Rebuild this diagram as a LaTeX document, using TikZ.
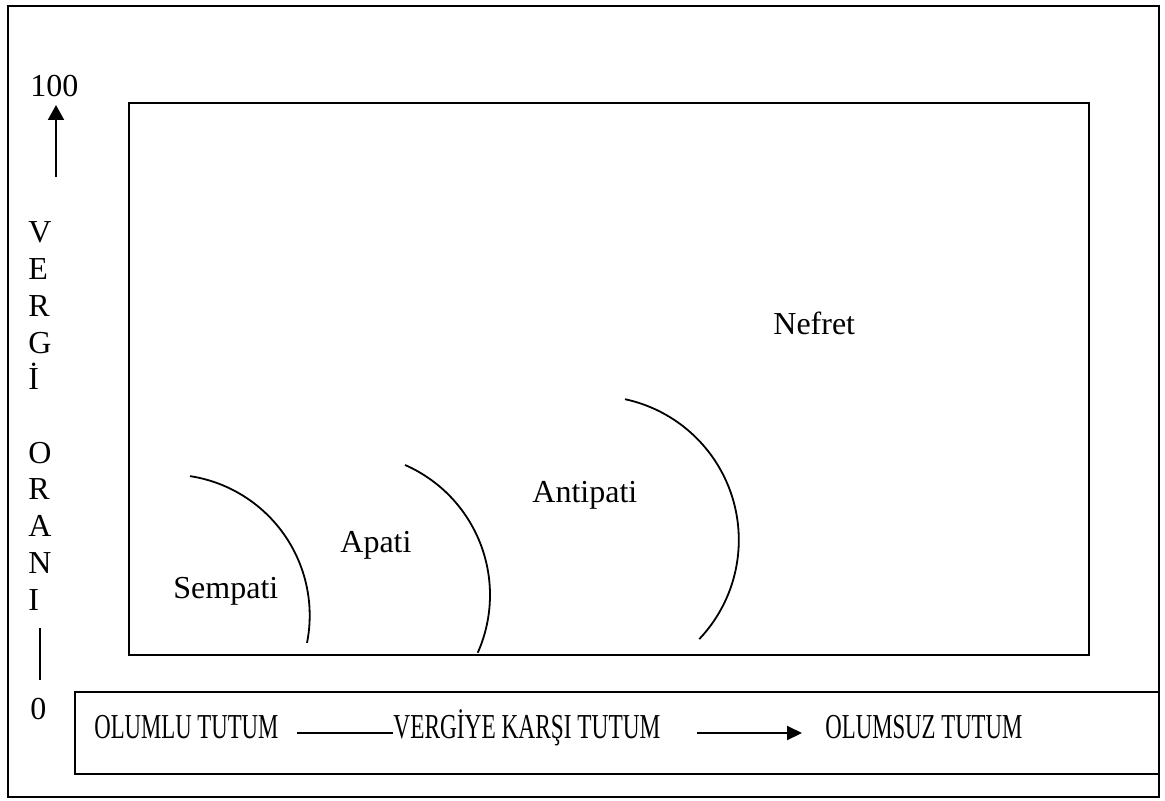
\documentclass[tikz,border=0pt]{standalone}
\usepackage{fontspec}
\setmainfont{Liberation Serif}
\usepackage{graphicx}
\usetikzlibrary{arrows.meta}
\begin{document}
\begin{tikzpicture}[x=0.5pt,y=-0.5pt,
  font=\fontsize{16}{19}\selectfont,
  frame/.style={draw, line width=1pt},
  lbl/.style={inner sep=0pt, anchor=base west},
  leg/.style={inner sep=0pt, anchor=base west, font=\fontsize{17.5}{21}\selectfont},
  curve/.style={line width=0.9pt},
  conn/.style={line width=1pt}]
\useasboundingbox (0,0) rectangle (1165,801);
% frames
\draw[frame] (8,6) rectangle (1159,797);
\draw[frame, line width=1.1pt] (129,103) rectangle (1089,655);
\draw[frame] (75,692) rectangle (1159,774);
% vertical axis
\node[lbl] (hundred) at (30,97) {100};
\coordinate (uptail) at (56,177);
\coordinate (uptip) at (56,105);
\draw[conn, -{Triangle[length=7.5pt,width=8pt]}] (uptail) -- (uptip);
\foreach \c/\k in {V/0,E/1,R/2,G/3,İ/4,O/6,R/7,A/8,N/9,I/10}
  \node[lbl] (ax\k) at (28,{243+36.7*\k}) {\c};
\coordinate (bartop) at (40,628);
\coordinate (barbot) at (40,680);
\draw[line width=0.8pt] (bartop) -- (barbot);
\node[lbl] (zero) at (30,719) {0};
% arcs
\draw[curve] plot[smooth, samples=50, domain=-81.3:11.2] ({168.7+141*cos(\x)},{615.5+141*sin(\x)});
\draw[curve] plot[smooth, samples=50, domain=-66.3:24] ({348+142*cos(\x)},{595+142*sin(\x)});
\draw[curve] plot[smooth, samples=50, domain=-77.9:43.5] ({594.8+144*cos(\x)},{540+144*sin(\x)});
% region labels
\node[lbl] (sempati) at (173,598) {Sempati};
\node[lbl] (apati) at (340,552) {Apati};
\node[lbl] (antipati) at (532,502) {Antipati};
\node[lbl] (nefret) at (773,335) {Nefret};
% legend
\node[leg] (pos) at (94,738) {\resizebox{92pt}{\height}{OLUMLU TUTUM}};
\node[leg] (att) at (393,738) {\resizebox{133.5pt}{\height}{VERGİYE KARŞI TUTUM}};
\node[leg] (neg) at (825,738) {\resizebox{98.5pt}{\height}{OLUMSUZ TUTUM}};
\coordinate (ls) at (297,733);
\draw[conn] (ls) -- (ls -| att.west);
\coordinate (as) at (697,733);
\coordinate (ae) at (802,733);
\draw[conn, -{Triangle[length=7.5pt,width=7pt]}] (as) -- (ae);
\end{tikzpicture}
\end{document}
